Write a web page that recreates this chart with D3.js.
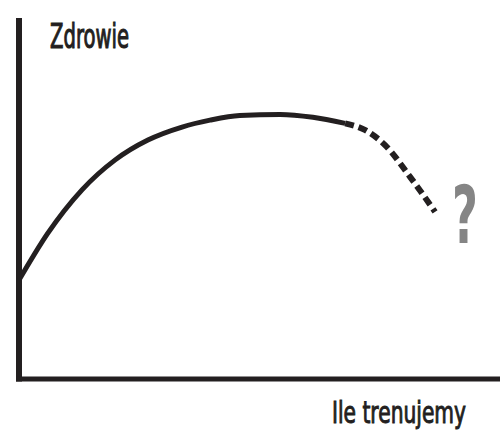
<!DOCTYPE html>
<html>
<head>
<meta charset="utf-8">
<script src="https://cdn.jsdelivr.net/npm/d3@7"></script>
<style>
  body { margin: 0; background: #fff; }
  svg { display: block; }
  .label { font-family: "DejaVu Sans Condensed", "DejaVu Sans", sans-serif; fill: #231f20; stroke: #231f20; stroke-width: 0.7; }
</style>
</head>
<body>
<div id="container"></div>
<script>
// ile trenujemy (0-10) -> zdrowie (0-10)
var trainingSolid = [0, 0.6, 1.31, 2.0, 2.68, 3.39, 3.97, 4.59, 5.43, 6.11, 6.78];
var healthSolid   = [2.74, 4.04, 5.24, 6.07, 6.62, 6.98, 7.17, 7.30, 7.33, 7.25, 7.08];
var trainingDashed = [6.78, 7.19, 7.61, 8.13, 8.65];
var healthDashed   = [7.08, 6.90, 6.48, 5.60, 4.63];
var yLabel = "Zdrowie";
var xLabel = "Ile trenujemy";

var width = 500, height = 442;
var ink = "#231f20";

var x = d3.scaleLinear().domain([0, 10]).range([19, 500]);
var y = d3.scaleLinear().domain([0, 10]).range([379, 18]);

var svg = d3.select("#container")
    .append("svg")
    .attr("width", width)
    .attr("height", height);

// axes (plain lines, no ticks)
svg.append("line")
    .attr("x1", x(0)).attr("x2", x(0))
    .attr("y1", y(10)).attr("y2", y(0) + 2.5)
    .attr("stroke", ink).attr("stroke-width", 6);
svg.append("line")
    .attr("x1", x(0) - 3).attr("x2", x(10))
    .attr("y1", y(0)).attr("y2", y(0))
    .attr("stroke", ink).attr("stroke-width", 5);

var line = d3.line()
    .x(d => x(d[0]))
    .y(d => y(d[1]))
    .curve(d3.curveMonotoneX);

svg.append("path")
    .datum(d3.zip(trainingSolid, healthSolid))
    .attr("d", line)
    .attr("fill", "none")
    .attr("stroke", ink)
    .attr("stroke-width", 5);

svg.append("path")
    .datum(d3.zip(trainingDashed, healthDashed))
    .attr("d", line)
    .attr("fill", "none")
    .attr("stroke", ink)
    .attr("stroke-width", 6)
    .attr("stroke-dasharray", "9,5");

// labels: tall, narrow lettering -> stretch vertically
svg.append("text")
    .attr("class", "label")
    .attr("transform", "translate(50,48) scale(1,1.58)")
    .attr("font-size", 21.6)
    .attr("textLength", 79)
    .attr("lengthAdjust", "spacingAndGlyphs")
    .text(yLabel);

svg.append("text")
    .attr("class", "label")
    .attr("transform", "translate(332,423) scale(1,1.35)")
    .attr("font-size", 22.4)
    .attr("textLength", 134)
    .attr("lengthAdjust", "spacingAndGlyphs")
    .text(xLabel);

// question mark at the end of the dashed part
svg.append("text")
    .attr("transform", "translate(452,243) scale(0.62,1)")
    .attr("font-family", "DejaVu Sans Condensed, DejaVu Sans, sans-serif")
    .attr("font-weight", "bold")
    .attr("font-size", 80)
    .attr("fill", "#858585")
    .text("?");
</script>
</body>
</html>
